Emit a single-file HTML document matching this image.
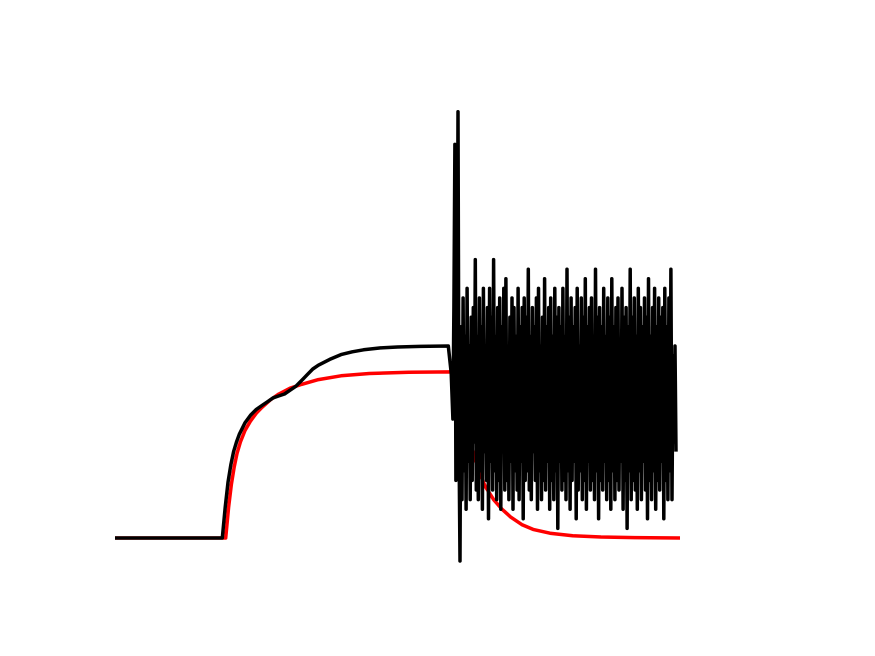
<!DOCTYPE html>
<html><head><meta charset="utf-8"><style>
html,body{margin:0;padding:0;background:#fff;}
svg{display:block;}
</style></head><body>
<svg id="chart" width="875" height="656" viewBox="0 0 875 656">
<rect width="875" height="656" fill="#fff"/>
<g id="plot"></g>
</svg>
<script>
// x in time units (0..100), y in signal units
const blackT = [0, 19, 19.5, 20, 20.5, 21, 21.5, 22, 23, 24, 25, 26, 27, 28, 29, 30, 31, 32, 33, 34, 35, 36, 38, 40, 42, 44, 47, 50, 54, 59, 59.5];
const blackY = [0, 0, 0.16, 0.29, 0.38, 0.45, 0.5, 0.54, 0.6, 0.64, 0.67, 0.69, 0.71, 0.73, 0.74, 0.75, 0.77, 0.79, 0.82, 0.85, 0.88, 0.9, 0.93, 0.955, 0.97, 0.98, 0.99, 0.995, 0.998, 1.0, 0.86];
const redT = [0, 19.6, 20.1, 20.6, 21.1, 21.6, 22.2, 23, 24, 25, 26, 27.5, 29, 31, 33, 36, 40, 45, 52, 59.5, 60.5, 61.5, 62.5, 63.5, 64.5, 65.5, 67, 68.5, 70, 72, 74, 77, 81, 86, 92, 100];
const redY = [0, 0, 0.16, 0.28, 0.37, 0.44, 0.5, 0.56, 0.61, 0.65, 0.68, 0.72, 0.75, 0.78, 0.8, 0.825, 0.845, 0.857, 0.863, 0.865, 0.78, 0.66, 0.54, 0.43, 0.34, 0.27, 0.2, 0.15, 0.11, 0.07, 0.045, 0.025, 0.012, 0.005, 0.002, 0];
const noiseStart = 59.8;
const noiseEnd = 99.3;
const noiseY = [0.62,1.2,2.05,0.3,0.6,2.22,0.5,-0.12,1.1,0.2,1.25,0.35,1.05,0.15,1.3,0.4,1.0,0.2,1.15,0.3,1.2,0.5,1.45,0.25,1.05,0.2,1.25,0.35,1.1,0.15,1.3,0.45,1.0,0.3,1.2,0.1,1.3,0.4,1.15,0.25,1.45,0.35,1.05,0.2,1.2,0.3,1.25,0.15,1.1,0.45,1.3,0.25,1.35,0.3,1.0,0.2,1.15,0.4,1.25,0.15,1.2,0.35,1.05,0.25,1.3,0.2,1.1,0.4,1.2,0.1,1.25,0.3,1.15,0.35,1.4,0.25,1.05,0.2,1.2,0.45,1.1,0.3,1.25,0.15,1.3,0.35,1.0,0.2,1.15,0.3,1.35,0.25,1.1,0.4,1.2,0.15,1.25,0.3,1.05,0.2,1.3,0.35,1.15,0.05,1.2,0.4,1.1,0.25,1.3,0.3,1.05,0.2,1.4,0.35,1.15,0.15,1.25,0.3,1.1,0.4,1.2,0.1,1.3,0.25,1.0,0.35,1.25,0.2,1.15,0.3,1.35,0.15,1.1,0.4,1.2,0.25,1.25,0.3,1.05,0.2,1.4,0.35,1.15,0.1,1.2,0.3,1.1,0.25,1.3,0.4,1.05,0.2,1.25,0.3,1.15,0.15,1.35,0.35,1.1,0.2,1.2,0.3,1.25,0.25,1.0,0.4,1.3,0.15,1.15,0.3,1.2,0.05,1.1,0.35,1.4,0.2,1.15,0.3,1.25,0.25,1.05,0.15,1.3,0.35,1.2,0.2,1.1,0.4,1.25,0.25,1.15,0.1,1.35,0.3,1.05,0.2,1.2,0.35,1.3,0.15,1.1,0.3,1.25,0.25,1.15,0.4,1.2,0.1,1.3,0.3,1.1,0.2,1.25,0.35,1.4,0.2,0.95,0.5,1.0,0.45];
const xMin = 0, xMax = 100, yMin = 0, yMax = 1;
function sx(t){ return 115 + (t - xMin) / (xMax - xMin) * 565; }
function sy(v){ return 538 - (v - yMin) / (yMax - yMin) * 192; }
const NS = 'http://www.w3.org/2000/svg';
const plot = document.getElementById('plot');
function addLine(ts, ys, color, name){
  const p = document.createElementNS(NS, 'polyline');
  p.setAttribute('points', ts.map((t,i)=>sx(t).toFixed(1)+','+sy(ys[i]).toFixed(1)).join(' '));
  p.setAttribute('fill','none');
  p.setAttribute('stroke',color);
  p.setAttribute('stroke-width','3.5');
  p.setAttribute('stroke-linejoin','round');
  
  
  plot.appendChild(p);
}
addLine(redT, redY, '#ff0000', 'red-series-line');
const bT = blackT.slice(), bY = blackY.slice();
const noiseStep = (noiseEnd - noiseStart) / (noiseY.length - 1);
noiseY.forEach((v,i)=>{ bT.push(noiseStart + i*noiseStep); bY.push(v); });
addLine(bT, bY, '#000000', 'black-series-line');
</script>
</body></html>
